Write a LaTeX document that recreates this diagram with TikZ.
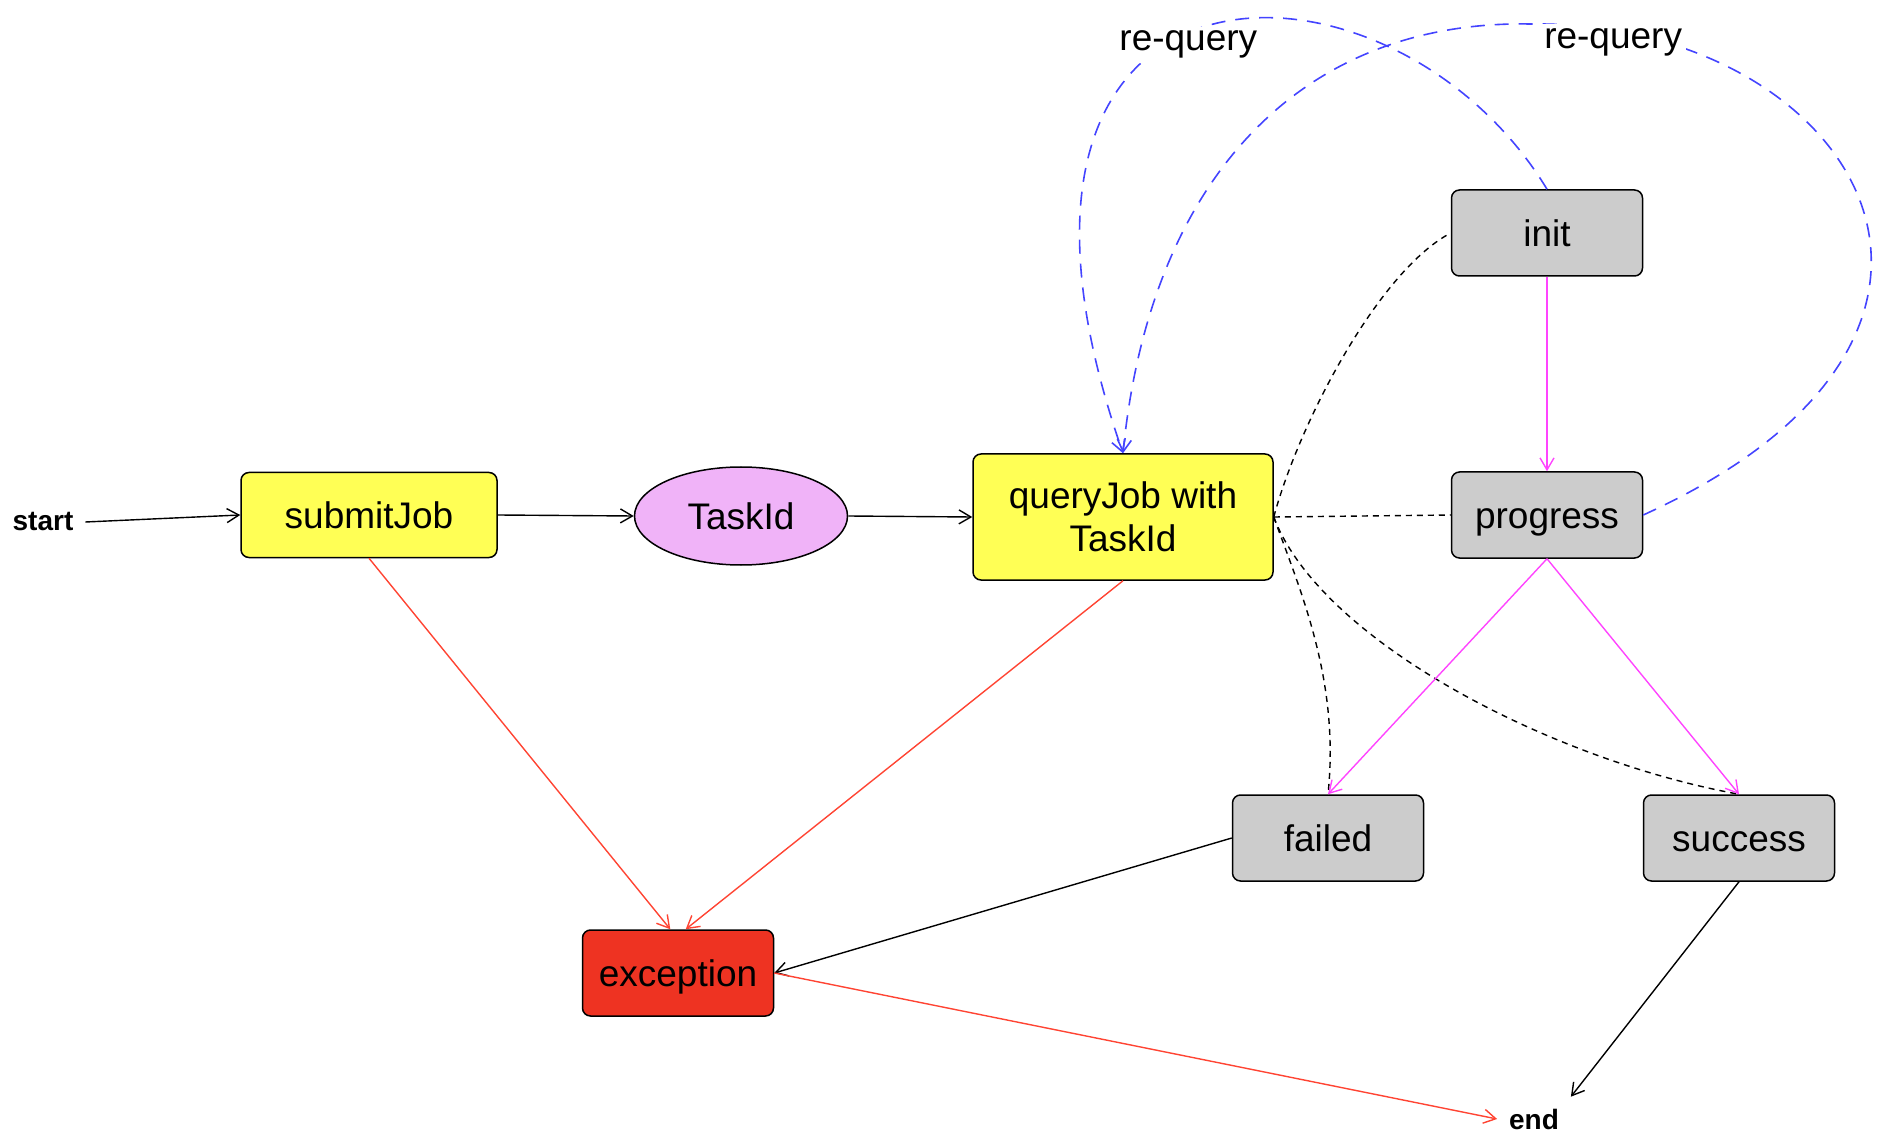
\documentclass[tikz,border=0pt]{standalone}
\usepackage{fontspec}
\setmainfont{Liberation Sans}
\usetikzlibrary{arrows.meta,shapes.geometric}
\definecolor{jobyellow}{HTML}{FFFF55}
\definecolor{idpink}{HTML}{F0B3F8}
\definecolor{stategray}{HTML}{CCCCCC}
\definecolor{errorred}{HTML}{EE3322}
\definecolor{failline}{HTML}{FF4433}
\definecolor{flowmagenta}{HTML}{FF44FF}
\definecolor{requeryblue}{HTML}{4444FF}
\begin{document}
\begin{tikzpicture}
[x=0.5pt,y=-0.5pt,
  boxdecorate/.style={shape=rectangle,rounded corners=4pt,draw,line width=0.75pt,
    inner sep=0pt,align=center,font=\fontsize{18.5}{21.5}\selectfont},
  onelinedecorate/.style={text height=13.2pt,text depth=0pt},
  statedecorate/.style={boxdecorate,onelinedecorate,fill=stategray,
    minimum width=95.5pt,minimum height=43pt},
  jobdecorate/.style={boxdecorate,fill=jobyellow},
  iddecorate/.style={shape=ellipse,draw,line width=0.75pt,fill=idpink,inner sep=0pt,
    onelinedecorate,minimum width=106.5pt,minimum height=49pt,
    font=\fontsize{18.5}{21.5}\selectfont},
  errordecorate/.style={boxdecorate,onelinedecorate,fill=errorred,
    minimum width=95.5pt,minimum height=43pt},
  termdecorate/.style={inner sep=2pt,outer sep=4pt,font=\fontsize{14}{16}\selectfont\bfseries},
  labeldecorate/.style={fill=white,inner sep=2pt,yshift=-6pt,
    font=\fontsize{18.5}{21.5}\selectfont},
  linedecorate/.style={-{Straight Barb[length=6pt,width=7pt]},line width=0.7pt},
  faildecorate/.style={linedecorate,draw=failline},
  flowdecorate/.style={linedecorate,draw=flowmagenta},
  requerydecorate/.style={linedecorate,draw=requeryblue,line width=0.8pt,
    dash pattern=on 7pt off 5pt},
  checkdecorate/.style={-,line width=0.7pt,dash pattern=on 3pt off 2.5pt}]
\useasboundingbox (0,0) rectangle (1890,1144);
%% job nodes
\node (start) at (43,522) [termdecorate] {start};
\node (submit) at (369,515) [jobdecorate,onelinedecorate,
  minimum width=128pt,minimum height=42.5pt] {submitJob};
\node (taskid) at (741,516) [iddecorate] {TaskId};
\node (query) at (1123,517) [jobdecorate,minimum width=150pt,minimum height=63pt] {queryJob with\\TaskId};
\node (exception) at (678,973) [errordecorate] {exception};
\node (end) at (1534,1119) [termdecorate] {end};
%% state nodes
\foreach \nodename/\x/\y in {
  init/1547/233, progress/1547/515, failed/1328/838, success/1739/838}
{
  \node (\nodename) at (\x,\y) [statedecorate] {\nodename};
}
%% query checks
\draw[checkdecorate] (query.east) .. controls (1300,420) and (1380,270) .. (init.west);
\draw[checkdecorate] (query.east) -- (progress.west);
\draw[checkdecorate] (query.east) .. controls (1300,590) and (1340,680) .. (failed.north);
\draw[checkdecorate] (query.east) .. controls (1320,640) and (1550,760) .. (success.north);
%% re-query loops
\draw[requerydecorate] (init.north) .. controls (1390,-70) and (940,-75) .. (query.north)
  node[pos=0.53,labeldecorate] {re-query};
\draw[requerydecorate] (progress.east) .. controls (2050,330) and (1850,20) .. (1530,24)
  node[pos=0.91,labeldecorate] {re-query}
  .. controls (1300,20) and (1150,180) .. (query.north);
%% edges or lines
\path
\foreach \startnode/\endnode in {start.east/submit.west, submit.east/taskid.west,
  taskid.east/query.west, failed.west/exception.east, success.south/end.north east} {
  (\startnode) edge[linedecorate] (\endnode)
};
\path
\foreach \startnode/\endnode in {submit.south/exception.100, query.south/exception.80,
  exception.east/end.west} {
  (\startnode) edge[faildecorate] (\endnode)
};
\path
\foreach \startnode/\endnode in {init.south/progress.north, progress.south/failed.north,
  progress.south/success.north} {
  (\startnode) edge[flowdecorate] (\endnode)
};
\end{tikzpicture}
\end{document}
